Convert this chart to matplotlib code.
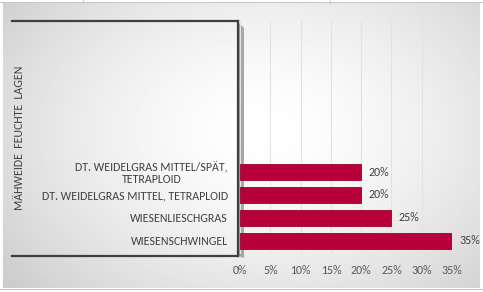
import numpy as np
import matplotlib.pyplot as plt
from matplotlib.lines import Line2D
from matplotlib.patches import Polygon

# data (bottom to top)
categories = ["WIESENSCHWINGEL", "WIESENLIESCHGRAS",
              "DT. WEIDELGRAS MITTEL, TETRAPLOID",
              "DT. WEIDELGRAS MITTEL/SPÄT,\nTETRAPLOID"]
shares = [0.35, 0.25, 0.20, 0.20]
xticks = [0, 0.05, 0.10, 0.15, 0.20, 0.25, 0.30, 0.35]
xtick_labels = ["0%", "5%", "10%", "15%", "20%", "25%", "30%", "35%"]
ylabel = "MÄHWEIDE  FEUCHTE  LAGEN"

plt.rcParams['font.family'] = ['Carlito', 'DejaVu Sans']

W, H = 483, 292
fig = plt.figure(figsize=(W / 100, H / 100), dpi=100)
fig.patch.set_facecolor('white')

def fx(px):
    return px / W

def fy(py):
    return 1 - py / H

# background gradient of the chart area
bg = fig.add_axes([fx(3), fy(288), fx(477), 285 / H], zorder=-5)
yy, xx = np.mgrid[0:1:200j, 0:1:300j]
d = np.sqrt(((xx - 0.55) / 0.75) ** 2 + ((yy - 0.45) / 0.9) ** 2)
shade = 1.0 - 0.22 * np.clip(d, 0, 1.2) ** 1.6
bg.imshow(shade, cmap='gray', vmin=0, vmax=1, aspect='auto', extent=[0, 1, 0, 1])
bg.set_axis_off()

# sheet cell lines outside chart
for x in [83, 330]:
    fig.add_artist(Line2D([fx(x), fx(x)], [fy(0), fy(3)], color='#d0d0d0', lw=0.8))
fig.add_artist(Line2D([0, 1], [fy(1.5), fy(1.5)], color='#c8c8c8', lw=0.8))
fig.add_artist(Line2D([0, 1], [fy(289), fy(289)], color='#c8c8c8', lw=0.8))

# gray side of the label wall, behind the bars
fig.add_artist(Polygon([(fx(238), fy(22)), (fx(244), fy(28)), (fx(244), fy(258)), (fx(238), fy(256))],
                       closed=True, color='#a6a6a6', lw=0, zorder=-1))

ax = fig.add_axes([fx(240), fy(254), fx(452) - fx(240), (254 - 21) / H], zorder=1)
ax.patch.set_alpha(0)
y = np.arange(len(categories))
ax.barh(y, shares, height=0.7, color='#b8003a', edgecolor='#9a0030', linewidth=0.6, zorder=3)
for yi, v in zip(y, shares):
    ax.annotate(f"{int(round(v * 100))}%", (v, yi), xytext=(7, 0), textcoords='offset pixels',
                ha='left', va='center', fontsize=8.6, color='#404040')

ax.set_xlim(0, 0.35)
ax.set_ylim(-0.59, 9.63)
ax.set_xticks(xticks)
ax.set_xticklabels(xtick_labels, fontsize=8.6, color='#595959')
ax.set_yticks(y)
ax.set_yticklabels(categories, fontsize=8.6, color='#404040', multialignment='center',
                   linespacing=1.05)
ax.tick_params(axis='both', length=0)
ax.tick_params(axis='x', pad=8)
ax.tick_params(axis='y', pad=8.6)
ax.grid(axis='x', color='#e2e2e2', lw=0.8, zorder=0)
for s in ax.spines.values():
    s.set_visible(False)

fig.text(fx(20), fy(138), ylabel, rotation=90, ha='center', va='center',
         fontsize=8.6, color='#404040')

# frame around the label wall
fc = '#3f3f3f'
fig.add_artist(Line2D([fx(12), fx(238)], [fy(21), fy(21)], color=fc, lw=1.6, zorder=2))
fig.add_artist(Line2D([fx(238), fx(238)], [fy(21), fy(256)], color=fc, lw=1.6, zorder=2))
fig.add_artist(Line2D([fx(12), fx(238)], [fy(256), fy(256)], color=fc, lw=1.6, zorder=2))

plt.savefig("out.png", dpi=100)
